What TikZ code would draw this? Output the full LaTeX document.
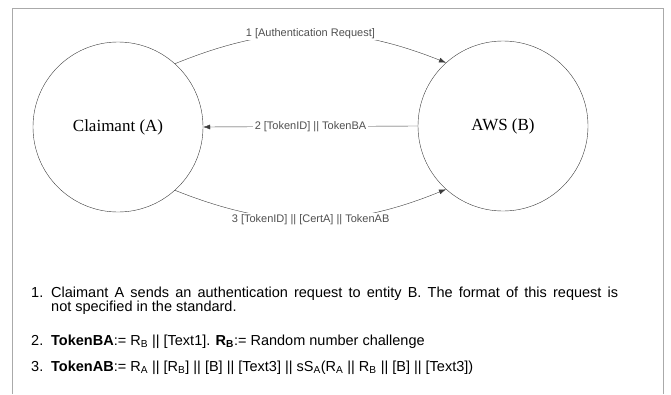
\documentclass[tikz,border=0pt]{standalone}
\usepackage{fontspec}
\setmainfont{Liberation Serif}
\setsansfont{Liberation Sans}
\usepackage{xcolor}
\usetikzlibrary{arrows.meta, positioning}
\definecolor{linegray}{RGB}{60, 60, 60}
\definecolor{labelgray}{RGB}{80, 80, 80}
\definecolor{framegray}{RGB}{170, 170, 170}

\newcommand{\listfont}{\sffamily\fontsize{14.5}{16}\selectfont}

\tikzset{
  party/.style={circle, draw=linegray, thin, minimum size=170pt, inner sep=0pt, font=\rmfamily\fontsize{17}{19}\selectfont},
  msg/.style={draw=linegray, thin, -{Latex[length=7pt, width=5pt]}},
  msglabel/.style={fill=white, inner sep=1.5pt, text=labelgray, font=\sffamily\fontsize{11}{13}\selectfont},
  itemtext/.style={anchor=base west, inner sep=0pt, font=\listfont},
  itemnum/.style={anchor=base west, inner sep=0pt, font=\listfont}
}

\begin{document}
\begin{tikzpicture}[x=1pt, y=-1pt]
    \useasboundingbox (0,0) rectangle (671,394);
    % Frame round the figure
    \draw[framegray, thin] (12,394) -- (12,8) -- (663,8) -- (663,394);

    % The two parties
    \node[party] (claimant) at (118,127) {Claimant (A)};
    \node[party] (aws) at (503,126) {AWS (B)};

    % Messages
    \draw[msg] (claimant.48) to[bend left=22] node[msglabel] {1 [Authentication Request]} (aws.132);
    \draw[msg] (aws.west) -- node[msglabel] {2 [TokenID] || TokenBA} (claimant.east);
    \draw[msg] (claimant.-48) to[bend right=22] node[msglabel] {3 [TokenID] || [CertA] || TokenAB} (aws.-132);

    % Notes below the figure
    \node[itemnum] (n1) at (31,297) {1.};
    \node[itemtext] (t1) at (51,297) {\makebox[567pt][s]{Claimant A sends an authentication request to entity B. The format of this request is}};
    \node[itemtext] (t1b) at (51,311) {not specified in the standard.};
    \node[itemnum] (n2) at (31,345) {2.};
    \node[itemtext] (t2) at (51,345) {\textbf{TokenBA}:= R\textsubscript{B} || [Text1]. \textbf{R\textsubscript{B}}:= Random number challenge};
    \node[itemnum] (n3) at (31,371) {3.};
    \node[itemtext] (t3) at (51,371) {\textbf{TokenAB}:= R\textsubscript{A} || [R\textsubscript{B}] || [B] || [Text3] || sS\textsubscript{A}(R\textsubscript{A} || R\textsubscript{B} || [B] || [Text3])};
\end{tikzpicture}
\end{document}
